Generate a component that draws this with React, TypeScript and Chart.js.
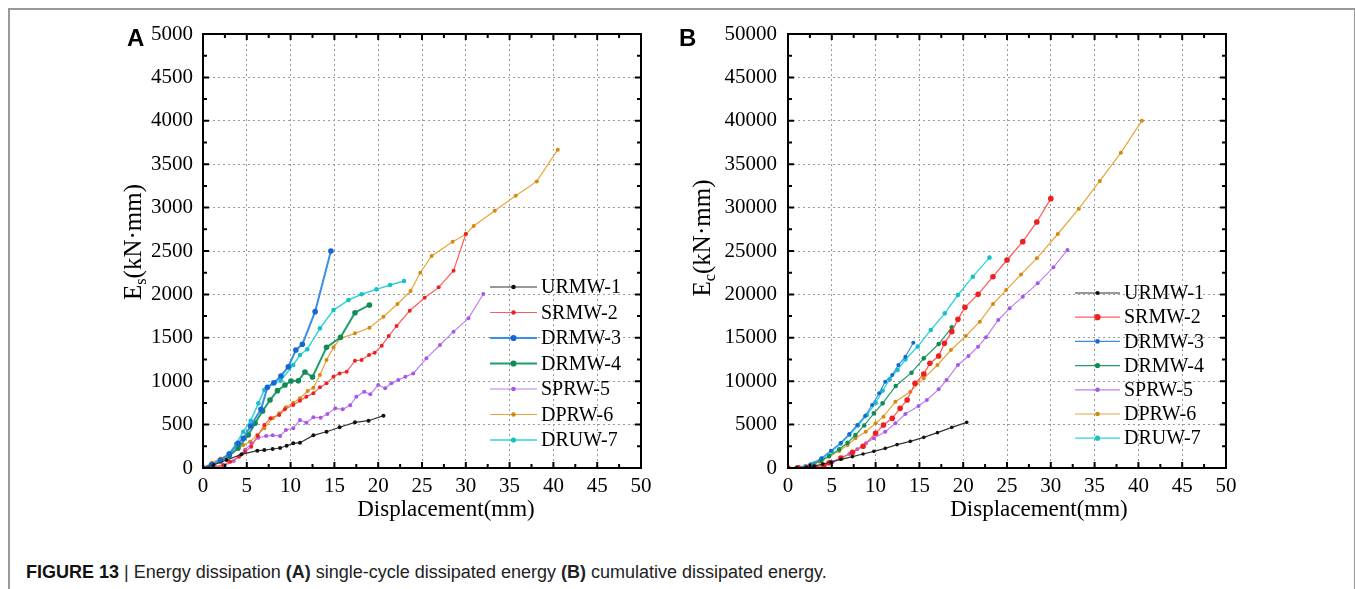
import React, { useEffect, useRef } from "react";
import { Chart, registerables } from "chart.js";

Chart.register(...registerables);

// ---------- series meta ----------
const SERIES_NAMES = ["URMW-1", "SRMW-2", "DRMW-3", "DRMW-4", "SPRW-5", "DPRW-6", "DRUW-7"];
const LINE_COLORS = ["#333333", "#ff5c5c", "#3b8de6", "#1f9e69", "#c07ff0", "#e6a63c", "#2fd3dc"];
const MARKER_COLORS = ["#111111", "#f01e1e", "#1566d6", "#118a56", "#a957e8", "#d48a0c", "#17bfc8"];

// ---------- axis ticks ----------
const X_TICK_STEP = 5;
const X_MAX = 50;
const YA_MAX = 5000;
const YA_STEP = 500;
const YB_MAX = 50000;
const YB_STEP = 5000;

// ---------- Panel A: single-cycle dissipated energy Es (kN·mm) ----------
const A_URMW1_X = [0, 1.2, 2.7, 4.4, 6.2, 7.0, 7.95, 8.8, 9.55, 10.3, 11.07, 12.6, 14.1, 15.6, 17.35, 18.9, 20.6];
const A_URMW1_Y = [0, 35, 92, 157, 200, 207, 219, 230, 257, 284, 292, 376, 418, 469, 526, 545, 603];

const A_SRMW2_X = [0, 1.2, 2.3, 3.1, 4.1, 4.8, 5.5, 6.24, 7.0, 7.7, 8.7, 9.35, 10.3, 11.07, 11.8, 12.6, 13.35, 14.1, 14.9, 15.6, 16.4, 17.35, 18.1, 18.95, 19.6, 20.4, 21.2, 22.1, 23.6, 25.3, 26.9, 28.6, 30.0];
const A_SRMW2_Y = [0, 10, 35, 73, 130, 185, 246, 372, 495, 572, 611, 676, 726, 776, 822, 860, 929, 975, 1052, 1090, 1110, 1236, 1244, 1302, 1329, 1409, 1520, 1636, 1812, 1962, 2081, 2273, 2696];

const A_DRMW3_X = [0, 1.0, 2.0, 3.0, 4.0, 4.6, 5.44, 6.62, 7.35, 8.1, 8.9, 9.74, 10.6, 11.34, 12.8, 14.6];
const A_DRMW3_Y = [0, 40, 90, 160, 284, 342, 484, 676, 929, 983, 1060, 1167, 1359, 1425, 1801, 2500];

const A_DRMW4_X = [0, 1.0, 2.0, 3.0, 4.0, 5.17, 5.94, 6.81, 7.65, 8.5, 9.36, 10.04, 10.88, 11.64, 12.5, 14.1, 15.7, 17.35, 19.0];
const A_DRMW4_Y = [0, 35, 80, 140, 230, 380, 515, 657, 783, 891, 956, 1002, 1006, 1106, 1048, 1390, 1506, 1789, 1878];

const A_SPRW5_X = [0, 1.5, 2.5, 3.5, 4.2, 4.8, 5.56, 6.32, 7.2, 7.95, 8.8, 9.47, 10.3, 11.07, 11.8, 12.6, 13.43, 14.2, 15.1, 15.95, 16.8, 17.5, 18.4, 19.1, 20.0, 20.8, 21.5, 22.3, 23.1, 24.0, 25.5, 27.05, 28.6, 30.3, 32.0];
const A_SPRW5_Y = [0, 10, 30, 80, 140, 210, 284, 349, 369, 376, 369, 438, 457, 553, 522, 584, 580, 622, 687, 676, 722, 822, 879, 849, 956, 918, 975, 1014, 1052, 1090, 1263, 1417, 1571, 1724, 2004];

const A_DPRW6_X = [0, 1.0, 2.0, 3.0, 4.0, 4.6, 5.37, 6.2, 7.0, 7.95, 8.7, 9.47, 10.3, 11.07, 11.95, 12.6, 13.35, 14.1, 14.9, 15.7, 17.35, 19.0, 20.6, 22.2, 23.7, 24.8, 26.1, 28.5, 30.0, 30.9, 33.3, 35.7, 38.1, 40.5];
const A_DPRW6_Y = [0, 60, 110, 160, 220, 265, 303, 380, 457, 572, 630, 699, 752, 803, 887, 925, 1071, 1244, 1390, 1494, 1551, 1616, 1743, 1889, 2039, 2250, 2442, 2607, 2692, 2788, 2964, 3137, 3302, 3667];

const A_DRUW7_X = [0, 1.0, 2.0, 3.0, 3.77, 4.6, 5.44, 6.32, 7.0, 8.0, 8.87, 10.3, 11.07, 11.9, 13.35, 14.9, 16.6, 18.1, 19.8, 21.35, 22.95];
const A_DRUW7_Y = [0, 45, 95, 170, 276, 418, 545, 745, 899, 975, 1006, 1187, 1302, 1367, 1609, 1820, 1935, 2001, 2058, 2108, 2154];

// ---------- Panel B: cumulative dissipated energy Ec (kN·mm) ----------
const B_URMW1_X = [0, 1.0, 2.1, 3.0, 3.96, 4.9, 6.04, 7.36, 8.57, 9.8, 11.1, 12.45, 13.96, 15.5, 17.06, 18.7, 20.4];
const B_URMW1_Y = [0, 20, 80, 230, 461, 691, 1000, 1306, 1613, 1920, 2266, 2688, 3072, 3533, 4070, 4685, 5261];

const B_SRMW2_X = [0, 1.2, 2.3, 3.1, 4.1, 4.7, 6.04, 7.36, 8.57, 10.0, 10.9, 11.9, 12.8, 13.6, 14.5, 15.5, 16.2, 17.2, 17.85, 18.7, 19.4, 20.2, 21.7, 23.4, 25.0, 26.8, 28.4, 30.0];
const B_SRMW2_Y = [0, 10, 40, 120, 300, 600, 1150, 1800, 2500, 3994, 4954, 5722, 6874, 7834, 9754, 10829, 12058, 12902, 14362, 15706, 17126, 18509, 20006, 22041, 23962, 26077, 28342, 31030];

const B_DRMW3_X = [0, 1.0, 2.0, 2.6, 3.8, 4.9, 6.04, 7.0, 7.9, 8.8, 9.6, 10.4, 11.1, 11.9, 12.6, 13.4, 14.3];
const B_DRMW3_Y = [0, 30, 150, 422, 1114, 1997, 2918, 3917, 4954, 5990, 7258, 8602, 9946, 10714, 11866, 12826, 14438];

const B_DRMW4_X = [0, 1.0, 2.0, 2.6, 3.8, 4.7, 5.85, 6.8, 7.7, 8.7, 9.8, 10.8, 12.3, 14.1, 15.5, 17.2, 18.7];
const B_DRMW4_Y = [0, 20, 120, 346, 845, 1382, 2150, 2900, 3800, 4900, 6298, 7450, 9446, 10982, 12634, 14285, 16205];

const B_SPRW5_X = [0, 1.5, 2.2, 3.0, 4.15, 5.1, 6.04, 7.0, 7.9, 8.9, 9.8, 11.1, 12.26, 13.4, 14.9, 15.85, 17.2, 18.1, 19.4, 20.6, 21.7, 22.6, 24.0, 25.3, 26.8, 28.5, 30.3, 31.9];
const B_SPRW5_Y = [0, 10, 40, 154, 346, 691, 1114, 1613, 2150, 2842, 3418, 4186, 5146, 6221, 7142, 7834, 9062, 10138, 11866, 12902, 13978, 15052, 17050, 18394, 19738, 21274, 23120, 25117];

const B_DPRW6_X = [0, 1.2, 2.45, 3.6, 4.7, 5.85, 6.8, 7.7, 8.87, 10.0, 10.9, 12.26, 13.96, 15.5, 17.06, 18.6, 20.3, 21.9, 23.4, 24.9, 26.6, 28.4, 30.8, 33.2, 35.6, 38.0, 40.4];
const B_DPRW6_Y = [0, 100, 346, 730, 1306, 1958, 2650, 3418, 4186, 5146, 5914, 7642, 8794, 10330, 11866, 13594, 15206, 16858, 18893, 20500, 22300, 24157, 26960, 29878, 33066, 36330, 40016];

const B_DRUW7_X = [0, 1.0, 2.0, 3.0, 4.0, 5.0, 6.0, 7.0, 8.0, 9.0, 10.0, 10.8, 11.6, 12.5, 13.4, 14.8, 16.3, 17.9, 19.4, 21.1, 23.0];
const B_DRUW7_Y = [0, 40, 200, 550, 1100, 1900, 2800, 3800, 4900, 6100, 7500, 8900, 10200, 11300, 12500, 13978, 15898, 17818, 19930, 22041, 24234];

const A_XS = [A_URMW1_X, A_SRMW2_X, A_DRMW3_X, A_DRMW4_X, A_SPRW5_X, A_DPRW6_X, A_DRUW7_X];
const A_YS = [A_URMW1_Y, A_SRMW2_Y, A_DRMW3_Y, A_DRMW4_Y, A_SPRW5_Y, A_DPRW6_Y, A_DRUW7_Y];
const B_XS = [B_URMW1_X, B_SRMW2_X, B_DRMW3_X, B_DRMW4_X, B_SPRW5_X, B_DPRW6_X, B_DRUW7_X];
const B_YS = [B_URMW1_Y, B_SRMW2_Y, B_DRMW3_Y, B_DRMW4_Y, B_SPRW5_Y, B_DPRW6_Y, B_DRUW7_Y];

const SERIF = "'Liberation Serif', 'Times New Roman', Times, serif";
const SANS = "'Liberation Sans', Arial, Helvetica, sans-serif";

function makeDatasets(xs: number[][], ys: number[][], widths: number[], radii: number[]) {
  return SERIES_NAMES.map((name, i) => ({
    label: name,
    data: xs[i].map((x, j) => ({ x, y: ys[i][j] })),
    borderColor: LINE_COLORS[i],
    backgroundColor: MARKER_COLORS[i],
    pointBackgroundColor: MARKER_COLORS[i],
    pointBorderColor: MARKER_COLORS[i],
    pointRadius: radii[i],
    pointBorderWidth: 0,
    pointHoverRadius: radii[i],
    borderWidth: widths[i],
    tension: 0,
    fill: false,
  }));
}

const frameTicksPlugin = {
  id: "frameTicks",
  afterDatasetsDraw(chart: any, _args: any, opts: any) {
    const { ctx, chartArea: a, scales } = chart;
    const xs = scales.x;
    const ys = scales.y;
    ctx.save();
    ctx.strokeStyle = "#000";
    ctx.lineWidth = 2;
    ctx.strokeRect(a.left, a.top, a.right - a.left, a.bottom - a.top);
    const drawTicks = (scale: any, horizontal: boolean) => {
      const vals = scale.ticks.map((t: any) => t.value);
      const all: { v: number; major: boolean }[] = [];
      vals.forEach((v: number, i: number) => {
        all.push({ v, major: true });
        if (i < vals.length - 1) all.push({ v: (v + vals[i + 1]) / 2, major: false });
      });
      ctx.lineWidth = 2;
      all.forEach(({ v, major }) => {
        const p = scale.getPixelForValue(v);
        const len = major ? 6 : 4;
        ctx.beginPath();
        if (horizontal) {
          ctx.moveTo(p, a.bottom);
          ctx.lineTo(p, a.bottom - len);
          ctx.moveTo(p, a.top);
          ctx.lineTo(p, a.top + len);
        } else {
          ctx.moveTo(a.left, p);
          ctx.lineTo(a.left + len, p);
          ctx.moveTo(a.right, p);
          ctx.lineTo(a.right - len, p);
        }
        ctx.stroke();
      });
    };
    drawTicks(xs, true);
    drawTicks(ys, false);

    const lg = opts.legend;
    chart.data.datasets.forEach((ds: any, i: number) => {
      const yy = a.top + lg.y0 + i * lg.dy;
      const x0 = a.left + lg.x0;
      const x1 = x0 + lg.len;
      ctx.strokeStyle = ds.borderColor;
      ctx.lineWidth = ds.borderWidth;
      ctx.beginPath();
      ctx.moveTo(x0, yy);
      ctx.lineTo(x1, yy);
      ctx.stroke();
      ctx.fillStyle = ds.pointBackgroundColor;
      ctx.beginPath();
      ctx.arc((x0 + x1) / 2, yy, ds.pointRadius + 0.3, 0, Math.PI * 2);
      ctx.fill();
      ctx.fillStyle = "#000";
      ctx.font = `${lg.fontSize}px ${SERIF}`;
      ctx.textBaseline = "middle";
      ctx.textAlign = "left";
      ctx.fillText(ds.label, x1 + 4, yy + 1);
    });
    ctx.restore();
  },
};

type PanelProps = {
  left: number;
  width: number;
  height: number;
  areaLeft: number;
  areaTop: number;
  areaRight: number;
  areaBottom: number;
  yMax: number;
  yStep: number;
  xs: number[][];
  ys: number[][];
  widths: number[];
  radii: number[];
  yPad: number;
  legend: { x0: number; y0: number; dy: number; len: number; fontSize: number };
};

function Panel(p: PanelProps) {
  const ref = useRef<HTMLCanvasElement | null>(null);
  useEffect(() => {
    if (!ref.current) return;
    const tickFont = { family: SERIF, size: 21 };
    const plain = (v: any) => String(v);
    const chart = new Chart(ref.current, {
      type: "line",
      data: { datasets: makeDatasets(p.xs, p.ys, p.widths, p.radii) as any },
      plugins: [frameTicksPlugin as any],
      options: {
        animation: false,
        responsive: false,
        devicePixelRatio: 1,
        events: [],
        layout: {
          padding: {
            left: 0,
            top: p.areaTop,
            right: p.width - (p.areaRight - p.left),
            bottom: 0,
          },
        },
        plugins: {
          legend: { display: false },
          tooltip: { enabled: false },
          title: { display: false },
          frameTicks: { legend: p.legend },
        } as any,
        scales: {
          x: {
            type: "linear",
            min: 0,
            max: X_MAX,
            ticks: {
              stepSize: X_TICK_STEP,
              autoSkip: false,
              maxRotation: 0,
              padding: 6,
              color: "#000",
              font: tickFont,
              callback: plain,
            },
            grid: { color: "#9a9a9a", lineWidth: 1, drawTicks: false },
            border: { display: false, dash: [2, 3] },
            afterFit: (s: any) => {
              s.height = p.height - p.areaBottom;
            },
          },
          y: {
            type: "linear",
            min: 0,
            max: p.yMax,
            ticks: {
              stepSize: p.yStep,
              autoSkip: false,
              padding: p.yPad,
              color: "#000",
              font: tickFont,
              callback: plain,
            },
            grid: { color: "#9a9a9a", lineWidth: 1, drawTicks: false },
            border: { display: false, dash: [2, 3] },
            afterFit: (s: any) => {
              s.width = p.areaLeft - p.left;
            },
          },
        },
      } as any,
    });
    return () => chart.destroy();
  }, []);
  return (
    <canvas
      ref={ref}
      width={p.width}
      height={p.height}
      style={{ position: "absolute", left: p.left, top: 0, width: p.width, height: p.height }}
    />
  );
}

const WIDTHS_A = [1.2, 1.2, 2, 2, 1.2, 1.2, 1.5];
const RADII_A = [2, 2, 2.8, 2.8, 2, 2, 2.3];
const WIDTHS_B = [1.2, 1.3, 1.2, 1.2, 1.2, 1.2, 1.3];
const RADII_B = [1.8, 2.8, 2, 2.3, 2, 2, 2.3];

export default function App() {
  const serifTitle: React.CSSProperties = {
    position: "absolute",
    fontFamily: SERIF,
    fontSize: 23,
    lineHeight: "23px",
    color: "#000",
    whiteSpace: "nowrap",
  };
  const yTitle: React.CSSProperties = { ...serifTitle, fontSize: 25, lineHeight: "25px" };
  const sub: React.CSSProperties = { fontSize: "0.65em", verticalAlign: "-0.3em" };
  return (
    <div
      style={{
        position: "absolute",
        left: 0,
        top: 0,
        width: 1355,
        height: 589,
        background: "#fff",
        overflow: "hidden",
      }}
    >
      <div
        style={{
          position: "absolute",
          left: 8,
          top: 8,
          width: 1344,
          height: 640,
          border: "2px solid #999",
        }}
      />
      <Panel
        left={0}
        width={680}
        height={540}
        areaLeft={203}
        areaTop={34}
        areaRight={641}
        areaBottom={468}
        yMax={YA_MAX}
        yStep={YA_STEP}
        xs={A_XS}
        ys={A_YS}
        widths={WIDTHS_A}
        radii={RADII_A}
        yPad={10}
        legend={{ x0: 287, y0: 253, dy: 25.5, len: 47, fontSize: 20 }}
      />
      <Panel
        left={660}
        width={695}
        height={540}
        areaLeft={788}
        areaTop={34}
        areaRight={1226}
        areaBottom={468}
        yMax={YB_MAX}
        yStep={YB_STEP}
        xs={B_XS}
        ys={B_YS}
        widths={WIDTHS_B}
        radii={RADII_B}
        yPad={11}
        legend={{ x0: 287, y0: 259, dy: 24.2, len: 45, fontSize: 20 }}
      />
      <div style={{ position: "absolute", left: 127, top: 26, fontFamily: SANS, fontWeight: 700, fontSize: 24, lineHeight: "24px", color: "#000" }}>A</div>
      <div style={{ position: "absolute", left: 679, top: 26, fontFamily: SANS, fontWeight: 700, fontSize: 24, lineHeight: "24px", color: "#000" }}>B</div>
      <div style={{ ...serifTitle, left: 446, top: 497, transform: "translateX(-50%)" }}>Displacement(mm)</div>
      <div style={{ ...serifTitle, left: 1039, top: 497, transform: "translateX(-50%)" }}>Displacement(mm)</div>
      <div style={{ ...yTitle, left: 137, top: 242, transform: "translate(-50%,-50%) rotate(-90deg)" }}>
        E<span style={sub}>s</span>(kN·mm)
      </div>
      <div style={{ ...yTitle, left: 706, top: 238, transform: "translate(-50%,-50%) rotate(-90deg)" }}>
        E<span style={sub}>c</span>(kN·mm)
      </div>
      <div
        style={{
          position: "absolute",
          left: 26,
          top: 563,
          fontFamily: SANS,
          fontSize: 18,
          lineHeight: "18px",
          color: "#222",
          whiteSpace: "nowrap",
        }}
      >
        <b style={{ color: "#111" }}>FIGURE 13</b> | Energy dissipation <b>(A)</b> single-cycle dissipated energy <b>(B)</b> cumulative dissipated energy.
      </div>
    </div>
  );
}
